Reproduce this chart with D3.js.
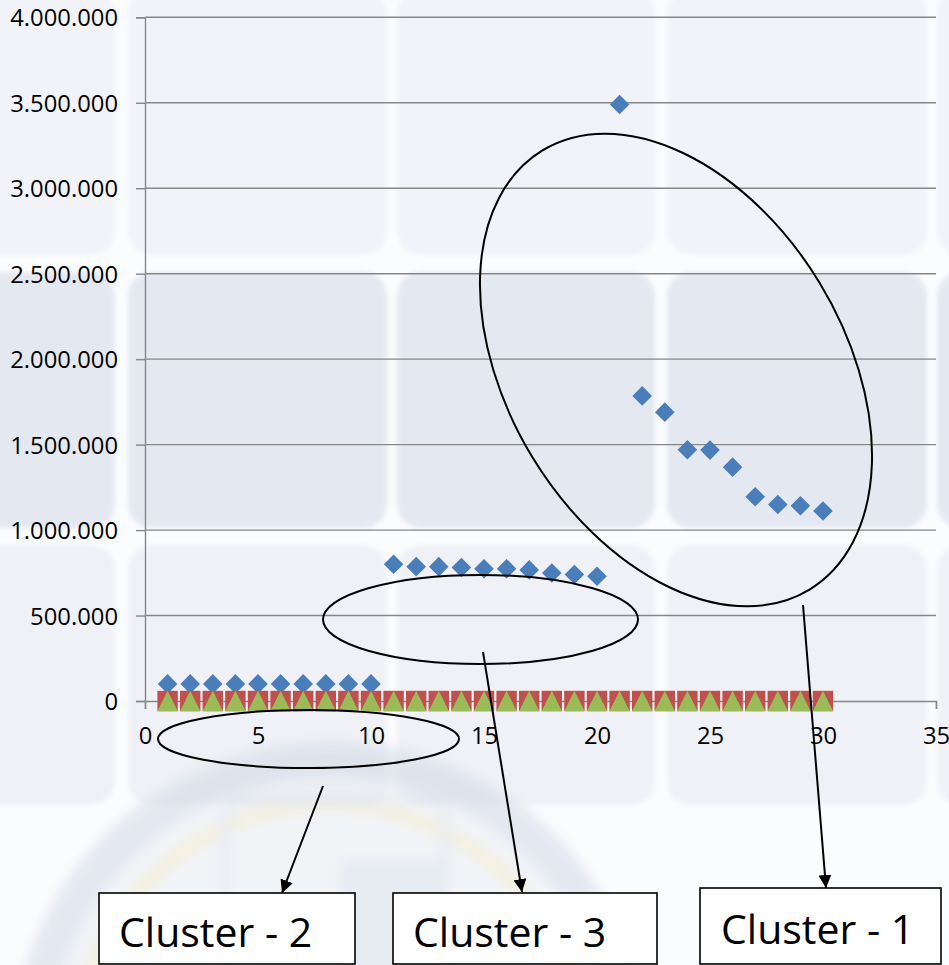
<!DOCTYPE html>
<html>
<head>
<meta charset="utf-8">
<script src="https://cdn.jsdelivr.net/npm/d3@7/dist/d3.min.js"></script>
<style>
  html, body { margin: 0; padding: 0; background: #f8f9fc; }
  svg { display: block; }
</style>
</head>
<body>
<div id="chart"></div>
<script>
// Observation index on the x axis
const xValues = [1, 2, 3, 4, 5, 6, 7, 8, 9, 10,
                 11, 12, 13, 14, 15, 16, 17, 18, 19, 20,
                 21, 22, 23, 24, 25, 26, 27, 28, 29, 30];

// Series 1 (blue diamonds)
const series1 = [100000, 100000, 100000, 100000, 100000, 100000, 100000, 100000, 100000, 100000,
                 800000, 786000, 786000, 781000, 774000, 774000, 767000, 749000, 740000, 730000,
                 3490000, 1785000, 1690000, 1470000, 1468000, 1368000, 1195000, 1150000, 1142000, 1112000];

// Series 2 (red squares)
const series2 = [0, 0, 0, 0, 0, 0, 0, 0, 0, 0,
                 0, 0, 0, 0, 0, 0, 0, 0, 0, 0,
                 0, 0, 0, 0, 0, 0, 0, 0, 0, 0];

// Series 3 (green triangles)
const series3 = [0, 0, 0, 0, 0, 0, 0, 0, 0, 0,
                 0, 0, 0, 0, 0, 0, 0, 0, 0, 0,
                 0, 0, 0, 0, 0, 0, 0, 0, 0, 0];

const xTicks = [0, 5, 10, 15, 20, 25, 30, 35];
const yTicks = [0, 500000, 1000000, 1500000, 2000000, 2500000, 3000000, 3500000, 4000000];

const clusterLabels = ["Cluster - 2", "Cluster - 3", "Cluster - 1"];

const W = 949, H = 965;
const svg = d3.select("#chart").append("svg")
  .attr("width", W).attr("height", H)
  .attr("viewBox", `0 0 ${W} ${H}`);

// ---------- slide backdrop: soft tiles and a faded seal ----------
const bg = svg.append("g");
bg.append("rect").attr("width", W).attr("height", H).attr("fill", "#fbfcfe");

const defs = svg.append("defs");
defs.append("filter").attr("id", "soft")
  .append("feGaussianBlur").attr("stdDeviation", 2.5);
defs.append("filter").attr("id", "softer")
  .append("feGaussianBlur").attr("stdDeviation", 6);

const tileCols = [[-150, 115], [128, 387], [397, 655], [667, 927], [937, 1200]];
const tileRows = [[-10, 255, "#f1f3f8"], [272, 528, "#e4e8f1"], [545, 805, "#eff1f6"]];
const tiles = bg.append("g").attr("filter", "url(#soft)");
tileRows.forEach(([y0, y1, fill]) => {
  tileCols.forEach(([x0, x1]) => {
    tiles.append("rect")
      .attr("x", x0).attr("y", y0)
      .attr("width", x1 - x0).attr("height", y1 - y0)
      .attr("rx", 24).attr("ry", 24)
      .attr("fill", fill);
  });
});

// faded emblem in the lower left
const seal = bg.append("g").attr("filter", "url(#softer)").attr("opacity", 0.6);
seal.append("circle").attr("cx", 330).attr("cy", 1060).attr("r", 320)
  .attr("fill", "#eceff4");
seal.append("circle").attr("cx", 330).attr("cy", 1060).attr("r", 300)
  .attr("fill", "none").attr("stroke", "#d6dbe7").attr("stroke-width", 36);
seal.append("circle").attr("cx", 330).attr("cy", 1060).attr("r", 255)
  .attr("fill", "none").attr("stroke", "#eee7c9").attr("stroke-width", 14);
seal.append("rect").attr("x", 225).attr("y", 800).attr("width", 220).attr("height", 200)
  .attr("rx", 18).attr("fill", "none").attr("stroke", "#dde1ea").attr("stroke-width", 10);
seal.append("rect").attr("x", 340).attr("y", 860).attr("width", 100).attr("height", 120)
  .attr("fill", "#dbe0eb");

// ---------- scales ----------
const x = d3.scaleLinear().domain([0, 35]).range([145, 936]);
const y = d3.scaleLinear().domain([0, 4000000]).range([701, 17.3]);

const locale = d3.formatLocale({ decimal: ",", thousands: ".", grouping: [3], currency: ["", ""] });
const fmt = locale.format(",.0f");

const axisColor = "#878787";
const fontFamily = "'Open Sans', 'Noto Sans', sans-serif";

// gridlines
svg.append("g").selectAll("line").data(yTicks.filter(d => d > 0)).join("line")
  .attr("x1", x(0)).attr("x2", x(35))
  .attr("y1", d => y(d)).attr("y2", d => y(d))
  .attr("stroke", axisColor).attr("stroke-width", 1.4);

// y axis
const yAxis = svg.append("g")
  .attr("transform", `translate(${x(0)},0)`)
  .call(d3.axisLeft(y).tickValues(yTicks).tickFormat(fmt).tickSize(9).tickPadding(18));
yAxis.select(".domain").attr("stroke", axisColor).attr("stroke-width", 1.4);
yAxis.selectAll(".tick line").attr("stroke", axisColor).attr("stroke-width", 1.4);
yAxis.selectAll(".tick text")
  .attr("fill", "#000").attr("font-family", fontFamily).attr("font-size", 23.8)
  .attr("dy", "0.36em");

// x axis
const xAxis = svg.append("g")
  .attr("transform", `translate(0,${y(0)})`)
  .call(d3.axisBottom(x).tickValues(xTicks).tickSize(8).tickSizeOuter(8).tickPadding(18));
xAxis.select(".domain").attr("stroke", axisColor).attr("stroke-width", 1.4);
xAxis.selectAll(".tick line").attr("stroke", axisColor).attr("stroke-width", 1.4);
xAxis.selectAll(".tick text")
  .attr("fill", "#000").attr("font-family", fontFamily).attr("font-size", 23.8);

// ---------- markers ----------
const pts1 = xValues.map((v, i) => [v, series1[i]]);
const pts2 = xValues.map((v, i) => [v, series2[i]]);
const pts3 = xValues.map((v, i) => [v, series3[i]]);

const dHalf = 9.8;
svg.append("g").selectAll("path").data(pts1).join("path")
  .attr("d", d => {
    const cx = x(d[0]), cy = y(d[1]);
    return `M${cx},${cy - dHalf}L${cx + dHalf},${cy}L${cx},${cy + dHalf}L${cx - dHalf},${cy}Z`;
  })
  .attr("fill", "#4a7ebb");

const sHalf = 10.2;
svg.append("g").selectAll("rect").data(pts2).join("rect")
  .attr("x", d => x(d[0]) - sHalf).attr("y", d => y(d[1]) - sHalf)
  .attr("width", sHalf * 2).attr("height", sHalf * 2)
  .attr("fill", "#c0504d");

svg.append("g").selectAll("path").data(pts3).join("path")
  .attr("d", d => {
    const cx = x(d[0]), cy = y(d[1]);
    return `M${cx - sHalf},${cy + sHalf}L${cx},${cy - sHalf}L${cx + sHalf},${cy + sHalf}Z`;
  })
  .attr("fill", "#9bbb59");

// ---------- cluster annotations ----------
const ann = svg.append("g");
const ellipses = [
  { cx: 676, cy: 370, rx: 257, ry: 168, rot: 58.7 },
  { cx: 480.5, cy: 619.5, rx: 157.5, ry: 44.5, rot: 0 },
  { cx: 308.5, cy: 739, rx: 150.5, ry: 29, rot: 0 }
];
ann.selectAll("ellipse").data(ellipses).join("ellipse")
  .attr("cx", 0).attr("cy", 0)
  .attr("rx", d => d.rx).attr("ry", d => d.ry)
  .attr("transform", d => `translate(${d.cx},${d.cy}) rotate(${d.rot})`)
  .attr("fill", "none").attr("stroke", "#000").attr("stroke-width", 2);

defs.append("marker").attr("id", "arrow")
  .attr("viewBox", "0 0 10 10").attr("refX", 10).attr("refY", 5)
  .attr("markerWidth", 6.5).attr("markerHeight", 6.5).attr("markerUnits", "strokeWidth")
  .attr("orient", "auto")
  .append("path").attr("d", "M0,0L10,5L0,10Z").attr("fill", "#000");

const arrows = [
  [323, 786, 282, 893],
  [483, 652, 522, 892],
  [803, 605, 826, 888]
];
ann.selectAll("line").data(arrows).join("line")
  .attr("x1", d => d[0]).attr("y1", d => d[1])
  .attr("x2", d => d[2]).attr("y2", d => d[3])
  .attr("stroke", "#000").attr("stroke-width", 2)
  .attr("marker-end", "url(#arrow)");

const boxes = [
  { x0: 99, x1: 355, y0: 893, y1: 964, tx: 119, ty: 947 },
  { x0: 393, x1: 657, y0: 893, y1: 964, tx: 413, ty: 947 },
  { x0: 700, x1: 941, y0: 888, y1: 964, tx: 721, ty: 944 }
];
const boxG = ann.selectAll("g.box").data(boxes).join("g").attr("class", "box");
boxG.append("rect")
  .attr("x", d => d.x0).attr("y", d => d.y0)
  .attr("width", d => d.x1 - d.x0).attr("height", d => d.y1 - d.y0)
  .attr("fill", "#fff").attr("stroke", "#000").attr("stroke-width", 1.6);
boxG.append("text")
  .attr("x", d => d.tx).attr("y", d => d.ty)
  .attr("font-family", fontFamily).attr("font-size", 41)
  .attr("fill", "#000")
  .text((d, i) => clusterLabels[i]);
</script>
</body>
</html>
